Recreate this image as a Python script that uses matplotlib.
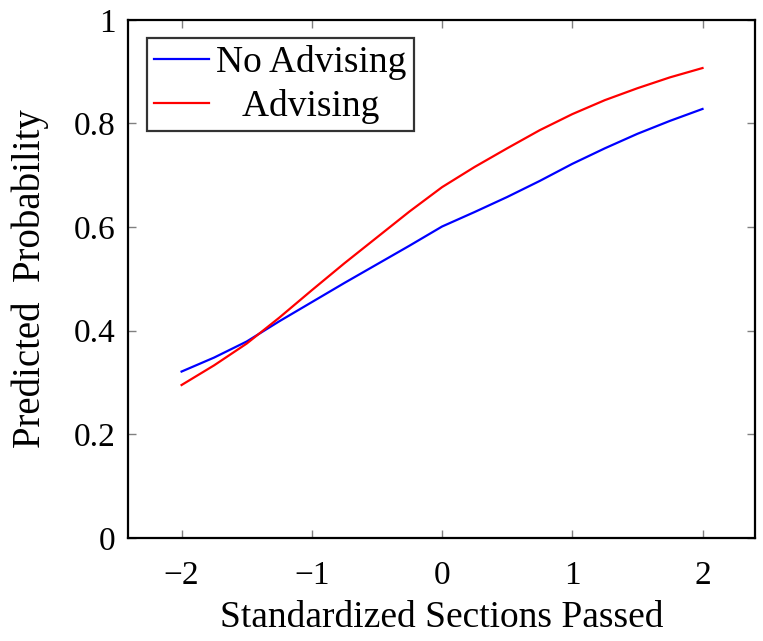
import numpy as np
import matplotlib.pyplot as plt

# values
x_vals = [-2, -1.75, -1.5, -1.25, -1, -0.75, -0.5, -0.25, 0,
          0.25, 0.5, 0.75, 1, 1.25, 1.5, 1.75, 2]
no_advising = [0.321, 0.348, 0.379, 0.418, 0.455, 0.492, 0.528, 0.564, 0.601,
               0.629, 0.658, 0.689, 0.722, 0.752, 0.780, 0.805, 0.828]
advising = [0.295, 0.333, 0.375, 0.425, 0.478, 0.530, 0.580, 0.630, 0.677,
            0.716, 0.752, 0.787, 0.818, 0.845, 0.868, 0.889, 0.907]

plt.rcParams['font.family'] = ['Liberation Serif', 'DejaVu Serif']

fig = plt.figure(figsize=(7.63, 6.41), dpi=100)
ax = fig.add_axes([0.168, 0.161, 0.821, 0.808])

ax.plot(x_vals, no_advising, c='#0000ff', linewidth=1.6, label='No Advising')
ax.plot(x_vals, advising, c='#ff0000', linewidth=1.6, label='   Advising')

ax.set_xlim(-2.41, 2.4)
ax.set_ylim(0, 1)
ax.set_xticks([-2, -1, 0, 1, 2])
ax.set_yticks([0, 0.2, 0.4, 0.6, 0.8, 1])
ax.set_yticklabels(['0', '0.2', '0.4', '0.6', '0.8', '1'])
ax.tick_params(direction='in', top=True, right=True, length=6, width=1,
               color='#808080', labelsize=24)
ax.tick_params(axis='x', pad=16)
ax.tick_params(axis='y', pad=9)
for s in ax.spines.values():
    s.set_linewidth(1.6)

ax.set_xlabel('Standardized Sections Passed', fontsize=27, labelpad=7)
ax.set_ylabel('Predicted  Probability', fontsize=28, labelpad=18)

leg = ax.legend(loc='upper left', bbox_to_anchor=(0.03, 0.965), borderaxespad=0,
                fontsize=27, frameon=True, fancybox=False, edgecolor='black',
                handlelength=1.45, handletextpad=0.2, borderpad=0.2,
                labelspacing=0.22)
leg.get_frame().set_linewidth(1.6)

plt.savefig('out.png', dpi=100)
